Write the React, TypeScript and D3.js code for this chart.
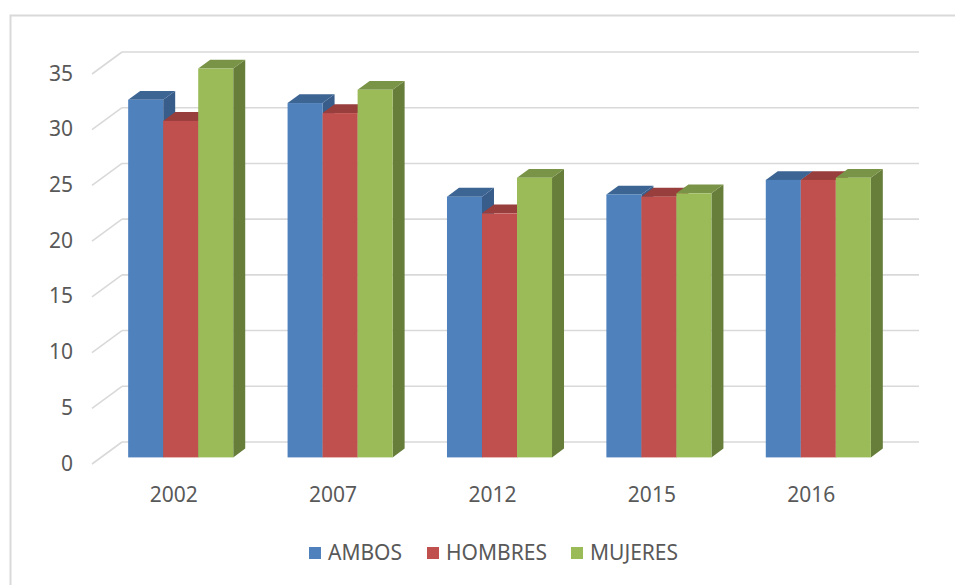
import React from "react";
import * as d3 from "d3";

const years = ["2002", "2007", "2012", "2015", "2016"];
const seriesNames = ["AMBOS", "HOMBRES", "MUJERES"];
const ambos = [32.1, 31.8, 23.4, 23.6, 24.9];
const hombres = [30.2, 30.9, 21.9, 23.4, 24.9];
const mujeres = [34.9, 33.0, 25.1, 23.7, 25.1];
const yTicks = [0, 5, 10, 15, 20, 25, 30, 35];

const fronts = ["#4F81BD", "#C0504D", "#9BBB59"];
const tops = ["#3D6594", "#983E3C", "#7A9447"];
const sides = ["#385D8A", "#8A3836", "#677E3B"];

const W = 955;
const H = 585;
// front plane of the plot + the depth offset of the back wall
const left = 92;
const right = 889;
const DX = 30;
const DY = -22;
const textColor = "#595959";
const font = "'Noto Sans', 'Liberation Sans', sans-serif";

export default function App() {
  const values = [ambos, hombres, mujeres];

  const x = d3.scaleBand().domain(years).range([left, right]).paddingInner(0.341).paddingOuter(0.1705);
  const xs = d3.scaleBand().domain(seriesNames).range([0, x.bandwidth()]).padding(0);
  const y = d3.scaleLinear().domain([0, 35]).range([464, 74]);

  // bars sit between 30% and 70% of the depth
  const fdx = DX * 0.3;
  const fdy = DY * 0.3;
  const bdx = DX * 0.4;
  const bdy = DY * 0.4;

  const bars: JSX.Element[] = [];
  years.forEach((yr, i) => {
    seriesNames.forEach((s, j) => {
      const v = values[j][i];
      const x0 = (x(yr) as number) + (xs(s) as number) + fdx;
      const x1 = x0 + xs.bandwidth();
      const yb = y(0) + fdy;
      const yt = y(v) + fdy;
      const top = `${x0},${yt} ${x1},${yt} ${x1 + bdx},${yt + bdy} ${x0 + bdx},${yt + bdy}`;
      const side = `${x1},${yt} ${x1 + bdx},${yt + bdy} ${x1 + bdx},${yb + bdy} ${x1},${yb}`;
      bars.push(
        <g key={yr + s}>
          <polygon points={side} fill={sides[j]} />
          <polygon points={top} fill={tops[j]} />
          <rect x={x0} y={yt} width={x1 - x0} height={yb - yt} fill={fronts[j]} />
        </g>
      );
    });
  });

  const legendX = [309, 427, 571];

  return (
    <svg width={W} height={H} style={{ position: "absolute", left: 0, top: 0 }}>
      <rect x={0} y={0} width={W} height={H} fill="#fff" />
      <path d={`M10.5,${H} V15.5 H${W}`} fill="none" stroke="#d9d9d9" strokeWidth={2} />
      <g stroke="#d9d9d9" strokeWidth={1.6} fill="none">
        {yTicks.map((t) => (
          <g key={t}>
            <line x1={left} y1={y(t)} x2={left + DX} y2={y(t) + DY} />
            <line x1={left + DX} y1={y(t) + DY} x2={right + DX} y2={y(t) + DY} />
          </g>
        ))}
      </g>
      {bars}
      <g fill={textColor} fontFamily={font} fontSize={21}>
        {yTicks.map((t) => (
          <text key={t} x={73} y={y(t) + 1} textAnchor="end" dominantBaseline="middle">
            {t}
          </text>
        ))}
        {years.map((yr) => (
          <text key={yr} x={(x(yr) as number) + x.bandwidth() / 2 + 2} y={502} textAnchor="middle">
            {yr}
          </text>
        ))}
        {seriesNames.map((s, j) => (
          <g key={s}>
            <rect x={legendX[j]} y={547} width={12} height={12} fill={fronts[j]} />
            <text x={legendX[j] + 19} y={560}>
              {s}
            </text>
          </g>
        ))}
      </g>
    </svg>
  );
}
